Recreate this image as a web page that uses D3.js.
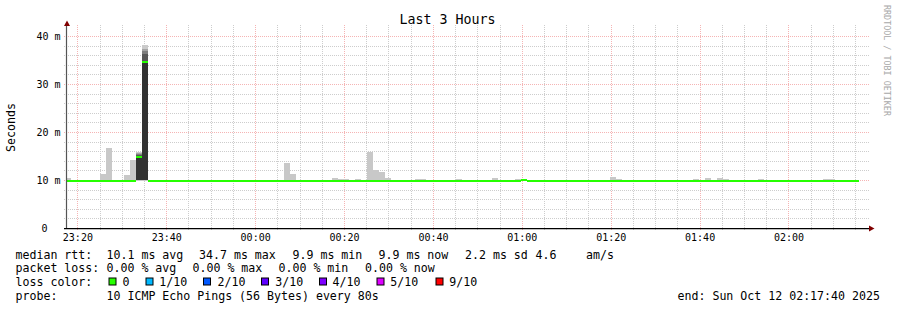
<!DOCTYPE html>
<html><head><meta charset="utf-8">
<script src="https://cdn.jsdelivr.net/npm/d3@7"></script>
<style>
html,body{margin:0;padding:0;background:#fff;}
svg{display:block;}
text{font-family:"DejaVu Sans Mono",monospace;}
</style></head>
<body>
<svg id="chart" width="897" height="310"></svg>
<script>
// ---------------- data ----------------
const chartTitle = "Last 3 Hours";
const yAxisTitle = "Seconds";
const watermark = "RRDTOOL / TOBI OETIKER";
const timeStart = Date.UTC(2025, 9, 11, 23, 17, 40);
const timeEnd = Date.UTC(2025, 9, 12, 2, 17, 40);
const firstStepStart = Date.UTC(2025, 9, 11, 23, 17, 12);
const stepSeconds = 80;

// median rtt per 80 s step (ms)
const medianRtt = [
  9.9, 9.9, 9.9, 9.9, 9.9, 9.9, 9.9, 9.9, 9.9, 9.9,
  9.9, 9.9, 15.0, 34.7, 9.9, 9.9, 9.9, 9.9, 9.9, 9.9,
  9.9, 9.9, 9.9, 9.9, 9.9, 9.9, 9.9, 9.9, 9.9, 9.9,
  9.9, 9.9, 9.9, 9.9, 9.9, 9.9, 9.9, 9.9, 9.9, 9.9,
  9.9, 9.9, 9.9, 9.9, 9.9, 9.9, 9.9, 9.9, 9.9, 9.9,
  9.9, 9.9, 9.9, 9.9, 9.9, 9.9, 9.9, 9.9, 9.9, 9.9,
  9.9, 9.9, 9.9, 9.9, 9.9, 9.9, 9.9, 9.9, 9.9, 9.9,
  9.9, 9.9, 9.9, 9.9, 9.9, 9.9, 9.9, 10.1, 9.9, 9.9,
  9.9, 9.9, 9.9, 9.9, 9.9, 9.9, 9.9, 9.9, 9.9, 9.9,
  9.9, 9.9, 9.9, 9.9, 9.9, 9.9, 9.9, 9.9, 9.9, 9.9,
  9.9, 9.9, 9.9, 9.9, 9.9, 9.9, 9.9, 9.9, 9.9, 9.9,
  9.9, 9.9, 9.9, 9.9, 9.9, 9.9, 9.9, 9.9, 9.9, 9.9,
  9.9, 9.9, 9.9, 9.9, 9.9, 9.9, 9.9, 9.9, 9.9, 9.9,
  9.9, 9.9, 9.9, 9.9
];
// highest ping per step (ms)
const maxRtt = [
  10.4, 10.0, 10.0, 10.0, 10.0, 10.0, 11.2, 16.7, 10.0, 10.0,
  11.0, 14.2, 15.9, 38.1, 10.0, 10.0, 10.0, 10.0, 10.0, 10.0,
  10.0, 10.0, 10.0, 10.0, 10.0, 10.0, 10.0, 10.0, 10.0, 10.0,
  10.0, 10.0, 10.0, 10.0, 10.0, 10.0, 10.0, 13.6, 11.3, 10.0,
  10.0, 10.0, 10.0, 10.0, 10.0, 10.4, 10.2, 10.2, 10.0, 10.2,
  10.0, 15.9, 12.1, 11.7, 10.4, 10.0, 10.0, 10.0, 10.0, 10.2,
  10.2, 10.0, 10.0, 10.0, 10.0, 10.0, 10.2, 10.0, 10.0, 10.0,
  10.0, 10.0, 10.4, 10.0, 10.0, 10.0, 10.2, 10.2, 10.0, 10.0,
  10.0, 10.0, 10.0, 10.0, 10.0, 10.0, 10.0, 10.0, 10.0, 10.0,
  10.0, 10.0, 10.6, 10.2, 10.0, 10.0, 10.0, 10.0, 10.0, 10.0,
  10.0, 10.0, 10.0, 10.0, 10.0, 10.0, 10.2, 10.0, 10.4, 10.0,
  10.4, 10.2, 10.0, 10.0, 10.0, 10.0, 10.0, 10.2, 10.0, 10.0,
  10.0, 10.0, 10.0, 10.0, 10.0, 10.0, 10.0, 10.0, 10.2, 10.2,
  10.0, 10.0, 10.0, 10.0
];
// steps where all ten pings are spread out (sorted ping times, ms)
const spikeSteps = [12, 13];
const spikePings = [
  [9.8, 9.9, 9.9, 10.0, 10.0, 15.0, 15.2, 15.4, 15.6, 15.9],
  [9.8, 9.9, 9.9, 10.0, 10.1, 34.7, 36.2, 36.9, 37.2, 38.1]
];

const yTickValues = [0, 10, 20, 30, 40];
const yTickLabels = ["0", "10 m", "20 m", "30 m", "40 m"];
const xTickLabels = ["23:20", "23:40", "00:00", "00:20", "00:40", "01:00", "01:20", "01:40", "02:00"];

const statsLabel = "median rtt:";
const statsItems = ["10.1 ms avg", "34.7 ms max", "9.9 ms min", "9.9 ms now", "2.2 ms sd", "4.6", "am/s"];
const lossLabel = "packet loss:";
const lossItems = ["0.00 % avg", "0.00 % max", "0.00 % min", "0.00 % now"];
const colorLabel = "loss color:";
const lossLegend = ["0", "1/10", "2/10", "3/10", "4/10", "5/10", "9/10"];
const probeLabel = "probe:";
const probeText = "10 ICMP Echo Pings (56 Bytes) every 80s";
const endText = "end: Sun Oct 12 02:17:40 2025";

// ---------------- styles / layout ----------------
const lossPalette = ["#26ff00", "#00b8ff", "#0059ff", "#5e00ff", "#7e00ff", "#dd00ff", "#ff0000"];
const FONT = "DejaVu Sans Mono";
const svg = d3.select("#chart");
svg.append("rect").attr("width", 897).attr("height", 310).attr("fill", "#fff");

const x = d3.scaleUtc().domain([new Date(timeStart), new Date(timeEnd)]).range([67, 867]);
const y = d3.scaleLinear().domain([0, 41.6667]).range([228, 28]);
const stepT = i => new Date(firstStepStart + i * stepSeconds * 1000);

svg.append("defs").append("clipPath").attr("id", "clip")
  .append("rect").attr("x", 67).attr("y", 28).attr("width", 800).attr("height", 200);

// grid (under the data)
const grid = svg.append("g").attr("fill", "none").attr("stroke-dasharray", "1,1");
const majorTimes = d3.utcMinute.every(20).range(new Date(timeStart), new Date(timeEnd));
const minorTimes = d3.utcMinute.every(5).range(new Date(timeStart), new Date(timeEnd))
  .filter(t => t.getUTCMinutes() % 20 !== 0);
const minorVals = d3.range(2, 41, 2).filter(v => v % 10 !== 0);
const majorVals = [10, 20, 30, 40];
const minorCol = "#cdcdcd", majorCol = "#f5b4b4";
grid.selectAll(".vmin").data(minorTimes).join("line")
  .attr("x1", d => Math.round(x(d)) + 0.5).attr("x2", d => Math.round(x(d)) + 0.5)
  .attr("y1", 25).attr("y2", 231).attr("stroke", minorCol);
grid.selectAll(".hmin").data(minorVals).join("line")
  .attr("y1", d => Math.round(y(d)) + 0.5).attr("y2", d => Math.round(y(d)) + 0.5)
  .attr("x1", 64).attr("x2", 870).attr("stroke", minorCol);
grid.selectAll(".vmaj").data(majorTimes).join("line")
  .attr("x1", d => Math.round(x(d)) + 0.5).attr("x2", d => Math.round(x(d)) + 0.5)
  .attr("y1", 25).attr("y2", 231).attr("stroke", majorCol);
grid.selectAll(".hmaj").data(majorVals).join("line")
  .attr("y1", d => Math.round(y(d)) + 0.5).attr("y2", d => Math.round(y(d)) + 0.5)
  .attr("x1", 64).attr("x2", 870).attr("stroke", majorCol);

const plot = svg.append("g").attr("clip-path", "url(#clip)");

// light smoke
const steps = medianRtt.map((m, i) => ({ i, m, max: maxRtt[i] }));
plot.append("g").selectAll("rect")
  .data(steps.filter(d => !spikeSteps.includes(d.i) && d.max > d.m))
  .join("rect")
  .attr("x", d => x(stepT(d.i)))
  .attr("width", d => x(stepT(d.i + 1)) - x(stepT(d.i)))
  .attr("y", d => y(d.max))
  .attr("height", d => y(d.m) - y(d.max))
  .attr("fill", "#c8c8c8")
  .attr("shape-rendering", "crispEdges");

// layered smoke (smokeping style)
spikeSteps.forEach((s, k) => {
  const p = spikePings[k];
  const n = p.length, half = n / 2;
  const layers = [];
  for (let ibot = 1, itop = n; itop > ibot; ibot++, itop--) {
    const c = Math.floor(190 / half * (half - ibot)) + 50;
    layers.push({ lo: p[ibot - 1], hi: p[itop - 1], c });
  }
  plot.append("g").selectAll("rect").data(layers).join("rect")
    .attr("x", x(stepT(s)))
    .attr("width", x(stepT(s + 1)) - x(stepT(s)))
    .attr("y", d => y(d.hi))
    .attr("height", d => y(d.lo) - y(d.hi))
    .attr("fill", d => `rgb(${d.c},${d.c},${d.c})`)
    .attr("shape-rendering", "crispEdges");
});

// median line (short horizontal bars, colour = loss 0)
plot.append("g").selectAll("rect").data(steps).join("rect")
  .attr("x", d => x(stepT(d.i)))
  .attr("width", d => x(stepT(d.i + 1)) - x(stepT(d.i)))
  .attr("y", d => Math.round(y(d.m) - 0.5))
  .attr("height", 2)
  .attr("fill", lossPalette[0])
  .attr("shape-rendering", "crispEdges");

// axes lines + arrows
svg.append("line").attr("x1", 66.5).attr("x2", 66.5).attr("y1", 229).attr("y2", 24)
  .attr("stroke", "#555").attr("stroke-width", 1.2);
svg.append("line").attr("x1", 64).attr("x2", 870).attr("y1", 228.6).attr("y2", 228.6)
  .attr("stroke", "#000").attr("stroke-width", 1.4);
svg.append("path").attr("d", "M67,20.5 L64,26 L70,26 Z").attr("fill", "#800000");
svg.append("path").attr("d", "M874.5,228.5 L869,225.5 L869,231.5 Z").attr("fill", "#800000");

// axis labels via d3 axes
const xTickDates = xTickLabels.map(s => {
  const [h, m] = s.split(":").map(Number);
  return new Date(Date.UTC(2025, 9, h >= 12 ? 11 : 12, h, m, 0));
});
const gx = svg.append("g").attr("transform", "translate(0,228)")
  .call(d3.axisBottom(x).tickValues(xTickDates).tickFormat((d, i) => xTickLabels[i]).tickSize(0).tickPadding(0));
gx.select(".domain").remove();
gx.attr("font-family", FONT).attr("font-size", 10);
gx.selectAll("text").attr("y", 13).attr("dy", null).attr("fill", "#000");

const gy = svg.append("g").attr("transform", "translate(60.5,0)")
  .call(d3.axisLeft(y).tickValues(yTickValues).tickFormat((d, i) => yTickLabels[i]).tickSize(0).tickPadding(0));
gy.select(".domain").remove();
gy.attr("font-family", FONT).attr("font-size", 10);
gy.selectAll("text").attr("dy", "0.36em").attr("fill", "#000")
  .attr("x", d => d === 0 ? -13 : 0);

// title, axis title, watermark
svg.append("text").attr("x", 447.5).attr("y", 24).attr("text-anchor", "middle")
  .attr("font-size", 13.3).text(chartTitle);
svg.append("text").attr("transform", "translate(15,127.5) rotate(-90)")
  .attr("text-anchor", "middle").attr("font-size", 11.6).text(yAxisTitle);
svg.append("text").attr("transform", "translate(884,5) rotate(90)")
  .attr("font-size", 8.4).attr("fill", "#a8a8a8").text(watermark);

// legend
const lg = svg.append("g").attr("font-size", 11.6).attr("fill", "#000");
const put = (tx, px, py) => lg.append("text").attr("x", px).attr("y", py).attr("xml:space", "preserve").text(tx);
const row1 = 258.5, row2 = 272.2, row3 = 286, row4 = 300;
put(statsLabel, 15.5, row1);
[106.5, 199, 292.5, 378.5, 465, 535.5, 586].forEach((px, i) => put(statsItems[i], px, row1));
put(lossLabel, 15.5, row2);
[106.5, 192.5, 278.5, 365].forEach((px, i) => put(lossItems[i], px, row2));
put(colorLabel, 15.5, row3);
const boxX = [109, 146, 203.5, 261.5, 319.5, 377, 436];
const labX = [122.5, 159.3, 217.5, 275.3, 332.6, 390.3, 449.3];
lossLegend.forEach((t, i) => {
  lg.append("rect").attr("x", boxX[i]).attr("y", 278).attr("width", 7).attr("height", 7)
    .attr("fill", lossPalette[i]).attr("stroke", "#000").attr("stroke-width", 1);
  put(t, labX[i], row3);
});
put(probeLabel, 15.5, row4);
put(probeText, 106.5, row4);
put(endText, 677.5, row4);
</script>
</body></html>
